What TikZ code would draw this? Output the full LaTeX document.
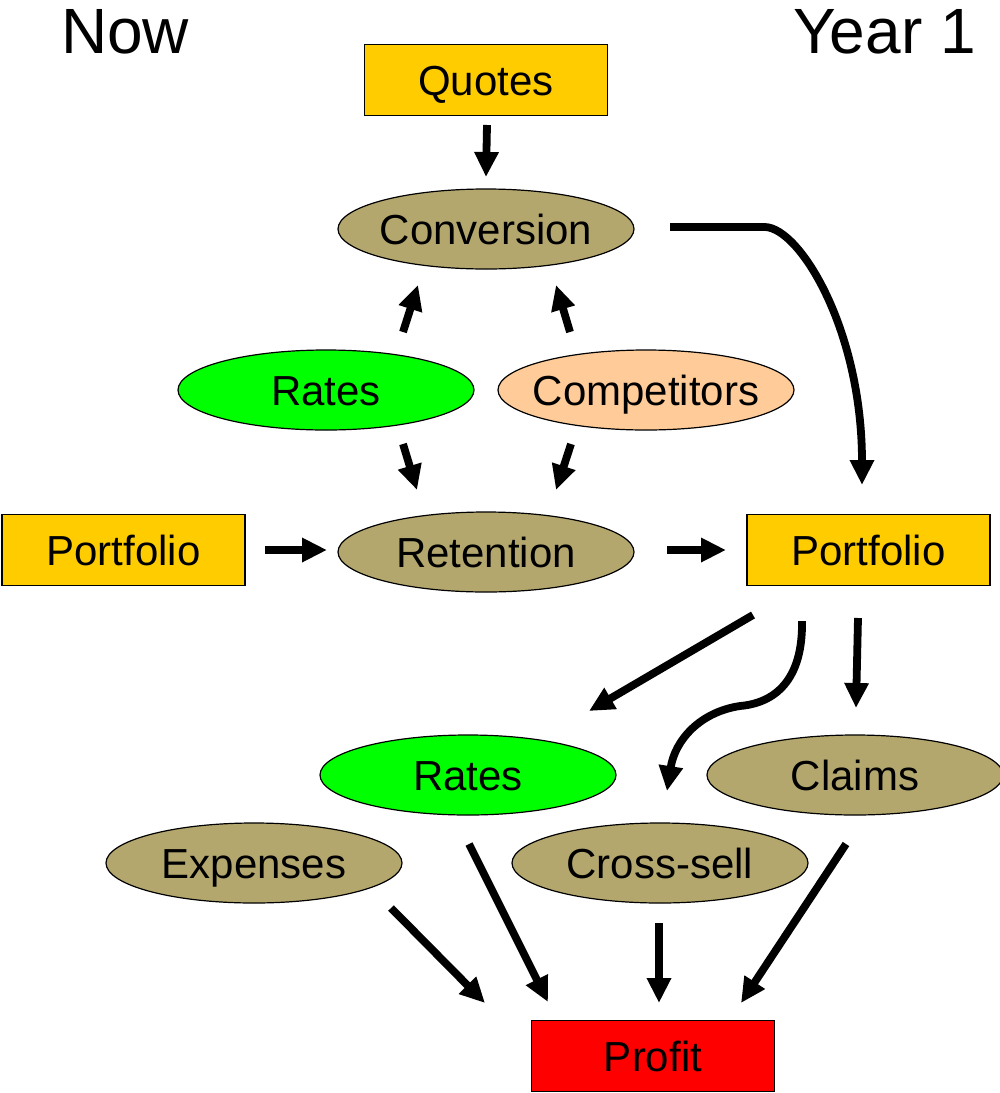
\documentclass[tikz,border=0pt]{standalone}
\usepackage{fontspec}
\setmainfont{Liberation Sans}
\usetikzlibrary{shapes.geometric,arrows.meta}
\definecolor{gold}{RGB}{255,204,0}
\definecolor{khaki}{RGB}{180,167,110}
\definecolor{brightgreen}{RGB}{0,255,0}
\definecolor{peach}{RGB}{255,204,153}
\definecolor{profred}{RGB}{255,0,0}
\newcommand\zb[1]{\makebox[0pt]{#1}}
\tikzset{
  lbl/.style={font=\fontsize{42}{50}\selectfont, text height=30pt, text depth=0pt, inner sep=0pt},
  boxnode/.style={lbl, rectangle, draw=black, line width=1.2pt, fill=gold, minimum width=243pt, minimum height=71pt},
  ellnode/.style={lbl, ellipse, draw=black, line width=1.2pt, fill=khaki, minimum width=296pt, minimum height=80pt},
  title/.style={font=\fontsize{64}{70}\selectfont, inner sep=0pt},
  arr/.style={line width=7.8pt, -{Triangle[length=25pt,width=23pt]}},
}
\begin{document}
\begin{tikzpicture}[x=1pt,y=-1pt]
\useasboundingbox (0,0) rectangle (1000,1093);
% titles
\node[title, anchor=base west] (now) at (61,53) {Now};
\node[title, anchor=base east] (year) at (976,53) {Year 1};
% nodes
\node[boxnode] (quotes) at (486,80) {Quotes};
\node[ellnode] (conv) at (486,229) {\zb{Conversion}};
\node[ellnode, fill=brightgreen] (rates1) at (326,390) {\zb{Rates}};
\node[ellnode, fill=peach] (comp) at (646,390) {\zb{Competitors}};
\node[ellnode] (ret) at (486,552) {\zb{Retention}};
\node[boxnode] (portL) at (123.5,550) {Portfolio};
\node[boxnode] (portR) at (868.5,550) {Portfolio};
\node[ellnode, fill=brightgreen] (rates2) at (468,775) {\zb{Rates}};
\node[ellnode] (claims) at (855,775) {\zb{Claims}};
\node[ellnode] (exp) at (254,863) {\zb{Expenses}};
\node[ellnode] (cross) at (660,863) {\zb{Cross-sell}};
\node[boxnode, fill=profred] (profit) at (653,1056) {Profit};
% connector end points
\coordinate (q1) at (487,125);  \coordinate (q2) at (486,177);
\coordinate (r1) at (403,332);  \coordinate (r2) at (418,285);
\coordinate (c1) at (570,332);  \coordinate (c2) at (556,285);
\coordinate (r3) at (403,444);  \coordinate (r4) at (417,490);
\coordinate (c3) at (571,444);  \coordinate (c4) at (556,490);
\coordinate (p1) at (265,550);  \coordinate (p2) at (327,550);
\coordinate (t1) at (667,550);  \coordinate (t2) at (726,550);
\coordinate (v1) at (670,227);  \coordinate (v2) at (765,227);  \coordinate (v3) at (862,485);
\coordinate (s1) at (753,615);  \coordinate (s2) at (589,711);
\coordinate (w1) at (802,621);  \coordinate (w2) at (740,706);  \coordinate (w3) at (667,791);
\coordinate (k1) at (858,618);  \coordinate (k2) at (856,708);
\coordinate (e1) at (391,908);  \coordinate (e2) at (485,1003);
\coordinate (g1) at (469,844);  \coordinate (g2) at (548,1002);
\coordinate (x1) at (659,923);  \coordinate (x2) at (659,1003);
\coordinate (m1) at (846,844);  \coordinate (m2) at (741,1003);
% connectors
\draw[arr] (q1) -- (q2);
\draw[arr] (r1) -- (r2);
\draw[arr] (c1) -- (c2);
\draw[arr] (r3) -- (r4);
\draw[arr] (c3) -- (c4);
\draw[arr] (p1) -- (p2);
\draw[arr] (t1) -- (t2);
\draw[arr, line join=round] (v1) -- (v2) .. controls (800,228) and (862,330) .. (v3);
\draw[arr] (s1) -- (s2);
\draw[arr] (w1) .. controls (803,680) and (775,703) .. (w2) .. controls (700,712) and (675,740) .. (w3);
\draw[arr] (k1) -- (k2);
\draw[arr] (e1) -- (e2);
\draw[arr] (g1) -- (g2);
\draw[arr] (x1) -- (x2);
\draw[arr] (m1) -- (m2);
\end{tikzpicture}
\end{document}
